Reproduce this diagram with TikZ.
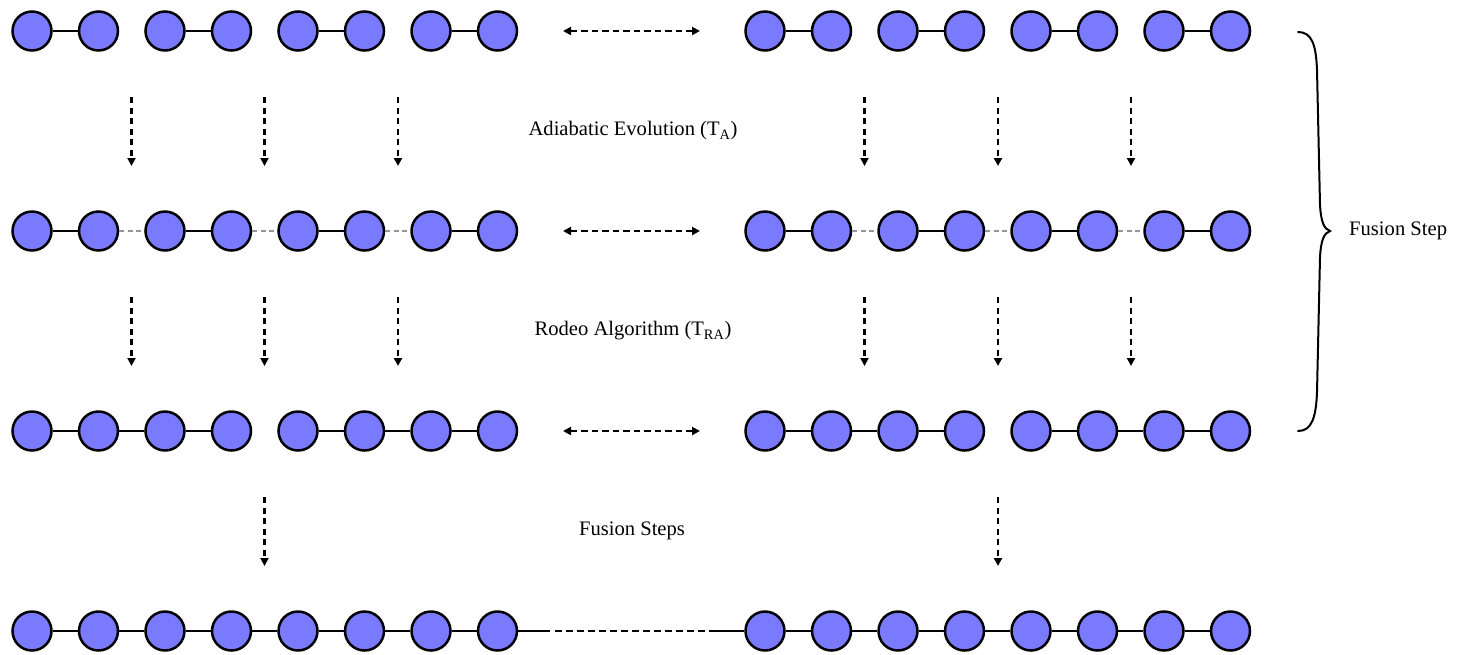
\documentclass[tikz,border=0pt]{standalone}
\usepackage{fontspec}
\setmainfont{Liberation Serif}
\usetikzlibrary{arrows.meta}
\definecolor{qfill}{RGB}{122,122,255}
\definecolor{weakgray}{RGB}{150,150,150}
\tikzset{
  qubit/.style={circle, draw=black, fill=qfill, line width=2.5pt, minimum size=39pt, inner sep=0pt},
  bond/.style={line width=2pt},
  weak/.style={line width=2pt, draw=weakgray, dash pattern=on 5pt off 3.5pt},
  link/.style={line width=2.4pt, dash pattern=on 6.5pt off 4.5pt},
  flow/.style={line width=2.4pt, dash pattern=on 6pt off 4.5pt, -{Triangle[length=8pt,width=8pt]}},
  swap/.style={line width=2.4pt, dash pattern=on 6.5pt off 4pt, {Triangle[length=8pt,width=8pt]}-{Triangle[length=8pt,width=8pt]}},
  lbl/.style={font=\fontsize{20.6}{24}\selectfont, inner sep=0pt},
  bracepath/.style={line width=2pt, line cap=round}
}
\begin{document}
\begin{tikzpicture}[x=1pt,y=-1pt]
\useasboundingbox (0,0) rectangle (1463,654);
% qubits
\foreach \r in {1,2,3,4}{
  \foreach \i in {0,...,7}{
    \node[qubit] (q-\r-l-\i) at ({32+66.5*\i},{31+200*(\r-1)}) {};
    \node[qubit] (q-\r-r-\i) at ({765+66.5*\i},{31+200*(\r-1)}) {};
  }
}
% bonds
\foreach \s in {l,r}{
  \foreach \i [evaluate=\i as \j using int(\i+1)] in {0,2,4,6}{
    \draw[bond] (q-1-\s-\i) -- (q-1-\s-\j);
    \draw[bond] (q-2-\s-\i) -- (q-2-\s-\j);
  }
  \foreach \i [evaluate=\i as \j using int(\i+1)] in {1,3,5}{
    \draw[weak] (q-2-\s-\i) -- (q-2-\s-\j);
  }
  \foreach \i [evaluate=\i as \j using int(\i+1)] in {0,1,2,4,5,6}{
    \draw[bond] (q-3-\s-\i) -- (q-3-\s-\j);
  }
  \foreach \i [evaluate=\i as \j using int(\i+1)] in {0,...,6}{
    \draw[bond] (q-4-\s-\i) -- (q-4-\s-\j);
  }
}
% bottom row continuation
\coordinate (c4a) at (550,631);
\coordinate (c4b) at (716,631);
\draw[bond] (q-4-l-7) -- (c4a);
\draw[link] ([xshift=5pt]c4a) -- (c4b);
\draw[bond] (c4b) -- (q-4-r-0);
% horizontal swap arrows
\foreach \r in {1,2,3}{
  \coordinate (hs-\r) at (563,{31+200*(\r-1)});
  \coordinate (he-\r) at (700,{31+200*(\r-1)});
  \draw[swap] (hs-\r) -- (he-\r);
}
% vertical arrows
\foreach \r/\ys in {1/97,2/297}{
  \foreach \x [count=\k] in {131.5,264.5,398,864.5,998,1131}{
    \coordinate (vs-\r-\k) at (\x,\ys);
    \coordinate (ve-\r-\k) at (\x,{\ys+69});
    \draw[flow] (vs-\r-\k) -- (ve-\r-\k);
  }
}
\foreach \x [count=\k] in {264.5,998}{
  \coordinate (vs-3-\k) at (\x,497);
  \coordinate (ve-3-\k) at (\x,566);
  \draw[flow] (vs-3-\k) -- (ve-3-\k);
}
% labels
\node[lbl] (ta) at (633,131) {Adiabatic Evolution (T\textsubscript{A})};
\node[lbl] (tra) at (633,331) {Rodeo Algorithm (T\textsubscript{RA})};
\node[lbl] (fs) at (632,531) {Fusion Steps};
% brace
\draw[bracepath] (1298,32) .. controls (1312,32) and (1316,45) .. (1317,70)
  -- (1320,205) .. controls (1321,222) and (1324,229) .. (1330,231)
  .. controls (1324,233) and (1321,240) .. (1320,257)
  -- (1317,392) .. controls (1316,417) and (1312,431) .. (1298,431);
\coordinate (tip) at (1330,231);
\node[lbl, anchor=west] (fstep) at (1349,231) {Fusion Step};
\end{tikzpicture}
\end{document}
